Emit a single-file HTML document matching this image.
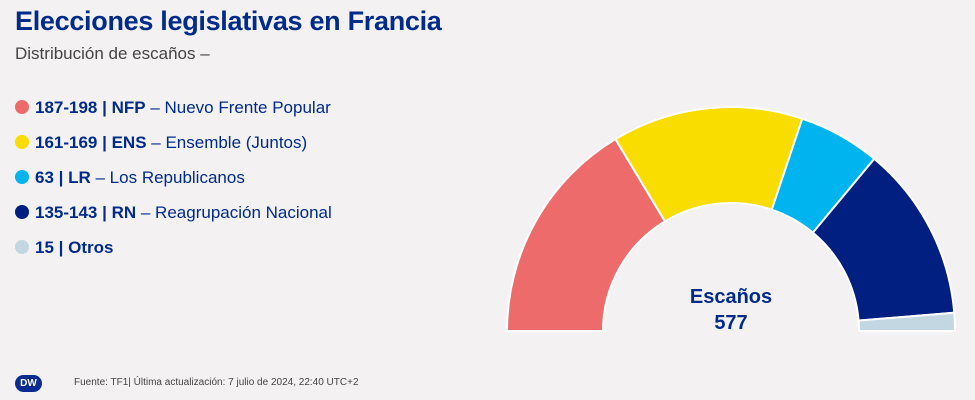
<!DOCTYPE html>
<html><head><meta charset="utf-8"><style>
body{margin:0;width:975px;height:400px;background:#f3f1f2;font-family:"Liberation Sans",sans-serif;position:relative;overflow:hidden}
.t{position:absolute;left:15px;top:6px;font-size:27px;font-weight:bold;color:#002b8a;letter-spacing:-0.3px}
.s{position:absolute;left:15px;top:44px;font-size:17px;color:#444}
.l{position:absolute;left:15px;font-size:17px;color:#002b8a;white-space:nowrap}
.l i{display:inline-block;width:14px;height:14px;border-radius:50%;vertical-align:-1px;margin-right:6px}
.l b{font-weight:bold}
.f{position:absolute;left:74px;top:377px;font-size:10px;color:#444}
.dw{position:absolute;left:15px;top:375px;width:27px;height:17px;border-radius:9px;background:#0a2b8f;color:#fff;font-size:10px;font-weight:bold;text-align:center;line-height:17px}
</style></head><body>
<div class="t">Elecciones legislativas en Francia</div>
<div class="s">Distribución de escaños –</div>
<div class="l" style="top:98px"><i style="background:#ee6b6b"></i><b>187-198 | NFP</b> – Nuevo Frente Popular</div>
<div class="l" style="top:133px"><i style="background:#f9dd00"></i><b>161-169 | ENS</b> – Ensemble (Juntos)</div>
<div class="l" style="top:168px"><i style="background:#00b4f0"></i><b>63 | LR</b> – Los Republicanos</div>
<div class="l" style="top:203px"><i style="background:#001f80"></i><b>135-143 | RN</b> – Reagrupación Nacional</div>
<div class="l" style="top:238px"><i style="background:#c3d7e3"></i><b>15 | Otros</b></div>
<div class="dw">DW</div>
<div class="f">Fuente: TF1| Última actualización: 7 julio de 2024, 22:40 UTC+2</div>
<svg id="g" width="975" height="400" style="position:absolute;left:0;top:0">
<text x="731" y="303" text-anchor="middle" font-size="20" font-weight="bold" fill="#002b8a" font-family="Liberation Sans">Escaños</text>
<text x="731" y="329" text-anchor="middle" font-size="20" font-weight="bold" fill="#002b8a" font-family="Liberation Sans">577</text>
</svg>
<script>
var cx=731,cy=331,R=224,r=128,v=[189,159,68,146,15],c=["#ee6b6b","#f9dd00","#00b4f0","#001f80","#c3d7e3"],a=Math.PI,s="";
function p(rad,an){return (cx+rad*Math.cos(an)).toFixed(2)+","+(cy-rad*Math.sin(an)).toFixed(2)}
for(var i=0;i<5;i++){var b=a-v[i]/577*Math.PI;
s+='<path d="M'+p(R,a)+' A'+R+','+R+' 0 0 1 '+p(R,b)+' L'+p(r,b)+' A'+r+','+r+' 0 0 0 '+p(r,a)+' Z" fill="'+c[i]+'" stroke="#fff" stroke-width="2"/>';a=b;}
document.getElementById("g").insertAdjacentHTML("afterbegin",s);
</script>
</body></html>
